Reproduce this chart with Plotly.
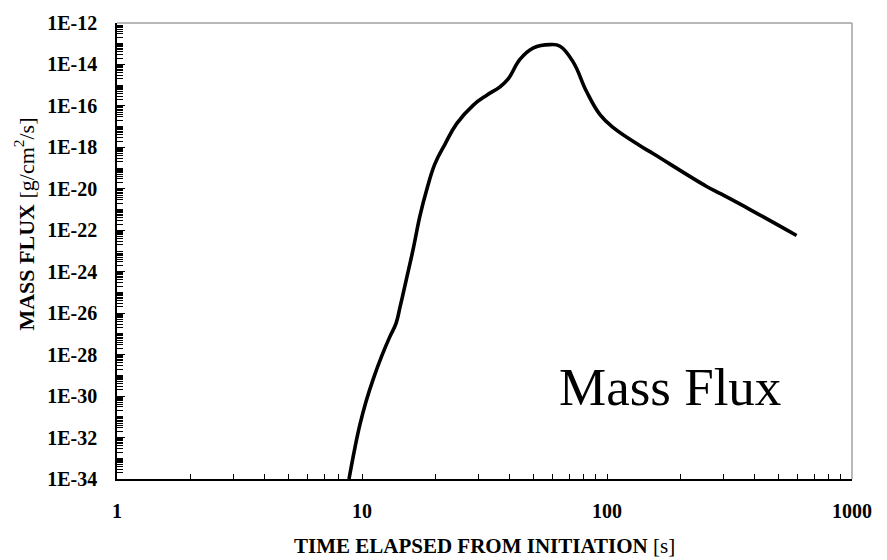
import plotly.graph_objects as go

# Time elapsed from initiation [s]
time_s = [8.85, 9.36, 9.81, 10.38, 11.12, 12.03, 13.01, 13.77, 14.30, 15.22,
          16.19, 17.24, 18.37, 19.84, 21.8, 24.35, 28.48, 32.3, 36.6, 39.5,
          44.2, 50.1, 58.5, 64.3, 72.8, 82.6, 93.6, 106.1, 136.4, 154.6,
          255.0, 289.0, 383.6, 594.0]
# Mass flux [g/cm^2/s]
mass_flux = [1.0e-34, 3.3e-33, 4.3e-32, 5.4e-31, 6.8e-30, 8.5e-29, 7.6e-28, 3.2e-27, 2.0e-26, 5.0e-25,
             1.3e-23, 5.0e-22, 9.1e-21, 1.6e-19, 1.4e-18, 1.4e-17, 1.1e-16, 3.3e-16, 8.3e-16, 2.0e-15,
             1.8e-14, 6.3e-14, 9.1e-14, 7.6e-14, 1.3e-14, 4.8e-16, 3.8e-17, 8.9e-18, 1.2e-18, 4.9e-19,
             1.3e-20, 6.0e-21, 1.0e-21, 5.6e-23]

x_major = [1, 10, 100, 1000]
x_labels = ["1", "10", "100", "1000"]
y_exponents = list(range(-34, -11, 2))
y_major = [10.0 ** e for e in y_exponents]
y_labels = ["1E%d" % e for e in y_exponents]

x_minor = [k * 10 ** n for n in range(0, 3) for k in range(2, 10)]
y_minor = [k * 10.0 ** n for n in range(-34, -12) for k in range(1, 10)]

SERIF = "Liberation Serif, Times New Roman, serif"

fig = go.Figure()
fig.add_trace(go.Scatter(
    x=time_s, y=mass_flux, mode="lines",
    line=dict(color="black", width=3.6, shape="spline", smoothing=1.2),
    showlegend=False, hoverinfo="skip",
))

fig.update_layout(
    width=887, height=560,
    margin=dict(l=117, r=35, t=13, b=81),
    paper_bgcolor="white", plot_bgcolor="white",
    font=dict(family=SERIF, color="black"),
    xaxis=dict(
        type="log", range=[0, 3],
        tickvals=x_major, ticktext=["<b>%s</b>" % t for t in x_labels],
        ticks="inside", ticklen=5, tickwidth=1, tickcolor="black",
        minor=dict(tickvals=x_minor, ticks="inside", ticklen=5, tickwidth=1, tickcolor="black"),
        showline=True, linecolor="black", linewidth=1.5,
        showgrid=False, zeroline=False,
        tickfont=dict(family=SERIF, size=20, color="black"),
        ticklabelstandoff=13,
    ),
    yaxis=dict(
        type="log", range=[-34, -12],
        tickvals=y_major, ticktext=["<b>%s</b>" % t for t in y_labels],
        ticks="inside", ticklen=8, tickwidth=1, tickcolor="black",
        minor=dict(tickvals=y_minor, ticks="inside", ticklen=6, tickwidth=1, tickcolor="black"),
        showline=True, linecolor="black", linewidth=1.5,
        showgrid=False, zeroline=False,
        tickfont=dict(family=SERIF, size=20, color="black"),
        ticklabelstandoff=14,
    ),
    shapes=[
        dict(type="line", xref="paper", yref="paper", x0=0, x1=1, y0=1, y1=1,
             line=dict(color="#a0a0a0", width=1.5)),
        dict(type="line", xref="paper", yref="paper", x0=1, x1=1, y0=0, y1=1,
             line=dict(color="#a0a0a0", width=1.5)),
    ],
    annotations=[
        dict(text="<b>TIME ELAPSED FROM INITIATION</b> [s]", xref="paper", yref="paper",
             x=0.5, y=-0.148, xanchor="center", yanchor="middle", showarrow=False,
             font=dict(family=SERIF, size=21, color="black")),
        dict(text="<b>MASS FLUX</b> [g/cm<sup>2</sup>/s]", xref="paper", yref="paper",
             x=-0.1265, y=0.558, xanchor="center", yanchor="middle", textangle=-90,
             showarrow=False, font=dict(family=SERIF, size=22, color="black")),
        dict(text="Mass Flux", xref="paper", yref="paper",
             x=0.752, y=0.202, xanchor="center", yanchor="middle", showarrow=False,
             font=dict(family=SERIF, size=53, color="black")),
    ],
)

fig.write_html("out.html")
